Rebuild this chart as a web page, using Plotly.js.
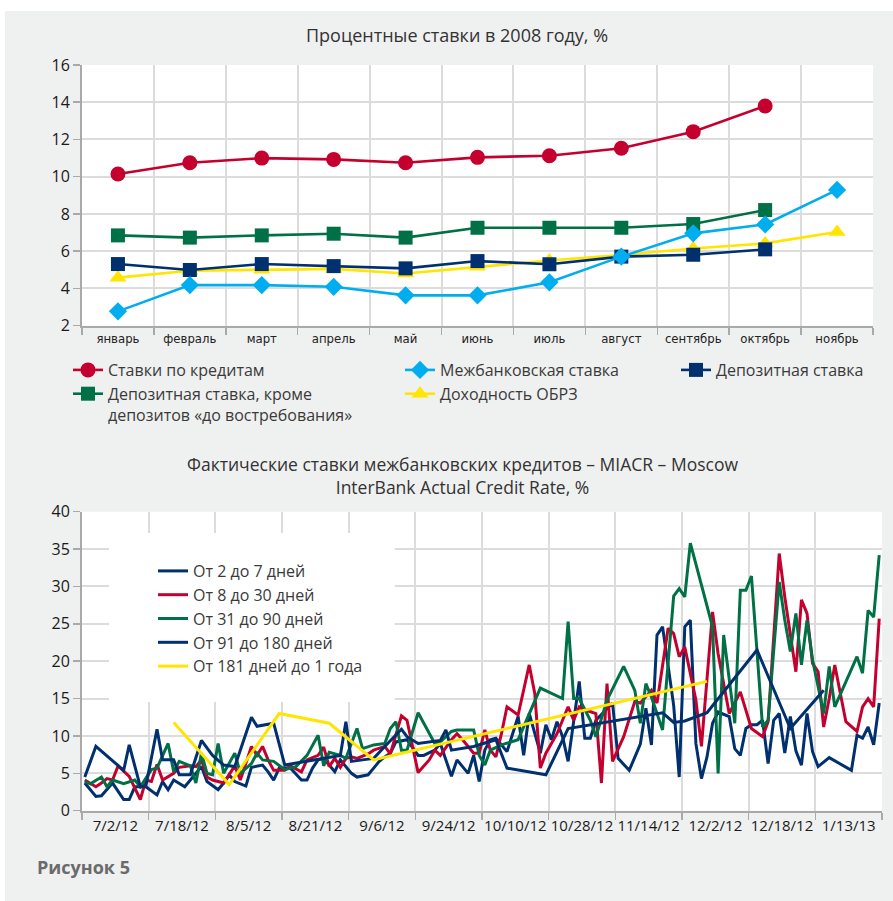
<!DOCTYPE html>
<html>
<head>
<meta charset="utf-8">
<script src="https://cdn.plot.ly/plotly-3.0.1.min.js"></script>
<style>html,body{margin:0;padding:0;background:#fff;}#chart{width:893px;height:901px;}</style>
</head>
<body>
<div id="chart"></div>
<script>
// ---------- Top chart data (2008, %) ----------
const months = ['январь','февраль','март','апрель','май','июнь','июль','август','сентябрь','октябрь','ноябрь'];
const creditRate = [10.15, 10.75, 11.0, 10.93, 10.75, 11.04, 11.13, 11.53, 12.42, 13.8, null];
const interbankRate = [2.77, 4.18, 4.18, 4.09, 3.63, 3.63, 4.33, 5.71, 6.96, 7.44, 9.29];
const depositRate = [5.31, 4.99, 5.31, 5.2, 5.08, 5.47, 5.3, 5.71, 5.81, 6.1, null];
const depositExDemand = [6.85, 6.73, 6.85, 6.94, 6.73, 7.26, 7.26, 7.26, 7.46, 8.21, null];
const obrzYield = [4.58, 4.95, 5.0, 5.05, 4.8, 5.17, 5.5, 5.8, 6.15, 6.42, 7.03];

// ---------- Bottom chart data (MIACR, %) ----------
// observation index on the category axis (12 observations per labelled period)
const dateLabels = ['7/2/12','7/18/12','8/5/12','8/21/12','9/6/12','9/24/12','10/10/12','10/28/12','11/14/12','12/2/12','12/18/12','1/13/13'];
const obsPerLabel = 12;

const d2to7_i = [0,2,3,5,7,8,9,11,13,14,15,16,18,21,22,24,25,26,27,29,30,32,33,34,35,37,39,40,41,42,43,45,46,48,49,51,52,53,54,55,56,58,60,61,63,64,66,67,68,69,70,71,72,73,74,76,78,79,80,82,83,84,85,86,87,89,90,91,92,95,96,98,100,101,102,103,104,106,107,108,109,110,111,112,113,114,116,117,118,119,120,121,122,123,124,125,126,127,128,129,130,131,132,134,138,139,140,141,142,143];
const d2to7_v = [3.7,1.9,2.0,3.7,1.5,1.5,3.2,3.2,2.1,3.9,2.8,4.1,3.2,5.9,3.9,2.8,3.7,4.8,3.9,3.3,5.8,6.1,5.2,4.1,5.7,5.7,4.1,4.1,5.7,6.8,7.0,5.2,6.8,5.0,4.5,4.8,5.7,6.6,7.2,7.7,9.2,9.5,7.4,7.4,8.1,9.0,4.6,6.8,5.9,5.0,7.4,3.9,8.1,9.5,9.7,7.9,12.6,7.4,13.0,7.7,11.5,9.5,11.9,9.9,6.6,17.3,9.7,9.7,12.1,14.4,7.0,5.4,8.9,13.7,8.8,23.5,24.6,14.1,4.5,24.6,25.5,9.0,4.3,7.2,11.7,13.2,12.6,8.3,7.4,11.0,11.5,11.5,12.1,6.3,12.1,13.0,7.7,12.6,8.0,6.1,13.0,7.9,5.9,7.1,5.4,10.1,9.7,11.2,8.8,14.4];

const d8to30_i = [0,2,3,4,5,6,8,10,11,12,13,14,16,17,19,20,21,22,23,25,27,28,30,31,32,33,34,36,37,39,40,42,43,44,45,46,47,48,49,51,52,54,55,57,58,60,62,63,64,66,67,68,70,71,72,73,74,75,76,78,80,81,82,83,85,87,88,89,90,92,93,94,95,97,99,100,102,103,105,106,107,108,110,111,113,114,116,118,120,122,123,125,126,128,129,130,131,132,133,134,135,137,139,140,141,142,143];
const d8to30_v = [4.1,3.2,3.7,4.3,4.1,6.0,4.6,1.5,4.1,3.9,6.2,4.1,5.0,5.8,6.0,5.9,6.8,4.5,4.1,3.7,6.0,4.1,8.6,7.4,8.6,6.8,5.4,5.4,6.0,5.2,6.8,7.4,8.5,5.9,7.0,5.8,7.0,7.2,7.0,7.6,8.1,8.6,7.6,12.7,12.1,5.1,6.8,8.1,7.4,9.5,10.3,9.5,7.7,7.7,10.8,8.1,7.2,10.3,13.9,12.8,19.5,15.7,5.7,7.7,10.3,13.9,12.1,13.9,13.5,13.0,3.7,17.0,6.6,9.9,14.6,14.4,16.1,14.4,24.4,23.7,20.6,21.9,14.8,8.6,26.6,21.0,13.0,15.9,11.0,9.9,11.9,34.4,28.6,18.6,28.2,26.4,19.7,18.6,11.2,15.0,19.5,11.9,10.6,13.9,15.0,13.9,25.7];

const d31to90_i = [0,1,3,4,5,7,9,10,12,13,15,16,17,19,20,21,22,23,24,25,27,28,30,31,32,34,36,38,40,42,43,44,46,47,49,50,52,54,55,56,57,58,60,63,64,66,67,70,71,72,73,75,78,79,82,86,87,88,89,91,92,94,97,99,100,101,102,104,106,107,108,109,113,114,115,117,118,119,120,122,123,125,126,127,128,129,130,131,133,134,135,139,140,141,142,143];
const d31to90_v = [3.9,3.6,4.5,3.2,4.1,3.6,4.1,3.2,5.5,5.7,9.0,5.2,6.6,6.0,3.7,7.7,5.0,4.8,9.0,5.0,7.7,5.0,6.3,7.7,6.8,6.6,5.5,5.9,7.4,10.1,6.0,7.8,7.4,7.0,11.0,8.3,8.8,9.0,11.0,11.9,8.1,8.1,13.1,9.0,9.2,10.6,10.8,10.8,7.4,6.1,8.1,8.8,9.5,11.2,16.4,15.0,25.3,15.0,15.0,12.1,9.9,14.8,19.3,16.1,11.7,17.0,15.2,10.8,28.7,29.7,28.6,35.8,24.6,5.0,23.5,11.7,29.5,29.5,31.4,11.2,12.1,30.6,25.5,21.3,26.4,19.5,25.5,20.2,13.0,19.3,13.9,20.6,18.4,26.8,25.9,34.2];

const d91to180_i = [0,2,7,8,10,11,13,14,16,17,19,21,23,25,27,30,31,33,34,36,46,47,48,50,52,54,57,58,60,64,65,66,70,74,76,83,87,104,106,108,112,121,127,133];
const d91to180_v = [4.5,8.6,5.4,8.8,3.2,3.3,10.9,6.8,6.8,4.8,4.8,9.4,7.4,6.1,5.9,12.5,11.3,11.5,11.7,6.1,7.4,11.9,6.6,6.8,7.0,8.6,10.9,9.9,9.0,9.4,10.8,8.1,8.6,9.5,5.7,4.8,11.0,13.1,11.8,12.0,13.1,21.5,11.0,16.1];

const d181to1y_i = [16,26,35,44,52,112];
const d181to1y_v = [11.8,3.5,13.0,11.7,6.8,17.3];

// ---------- styling ----------
const C = {red:'#c4002f', blue:'#00aeef', navy:'#00306e', green:'#007046', yellow:'#ffe500'};
const FONT = 'Open Sans, Noto Sans, sans-serif';
const NARROW = 'Liberation Sans Narrow, DejaVu Sans Condensed, Roboto, sans-serif';
const W = 893, H = 901;
const px = v => v / W;
const py = v => 1 - v / H;
const axisGray = '#a9a9a9', gridGray = '#dcdcdc';

function topTrace(name, y, color, symbol, size, legend) {
  return {type:'scatter', mode:'lines+markers', name, x: months, y,
    xaxis:'x', yaxis:'y', legend,
    line:{color, width:2.6}, marker:{color, symbol, size}, cliponaxis:false};
}
function botTrace(name, idx, vals, color, legend) {
  return {type:'scatter', mode:'lines', name, x: idx, y: vals,
    xaxis:'x2', yaxis:'y2', legend, line:{color, width:3}};
}

const data = [
  topTrace('Ставки по кредитам', creditRate, C.red, 'circle', 15, 'legend'),
  topTrace('Депозитная ставка, кроме<br>депозитов «до востребования»', depositExDemand, C.green, 'square', 14, 'legend'),
  topTrace('Доходность ОБРЗ', obrzYield, C.yellow, 'triangle-up', 15, 'legend2'),
  topTrace('Депозитная ставка', depositRate, C.navy, 'square', 14, 'legend3'),
  topTrace('Межбанковская ставка', interbankRate, C.blue, 'diamond', 14, 'legend2'),
  botTrace('От 2 до 7 дней', d2to7_i, d2to7_v, C.navy, 'legend4'),
  botTrace('От 8 до 30 дней', d8to30_i, d8to30_v, C.red, 'legend4'),
  botTrace('От 31 до 90 дней', d31to90_i, d31to90_v, C.green, 'legend4'),
  botTrace('От 91 до 180 дней', d91to180_i, d91to180_v, C.navy, 'legend4'),
  botTrace('От 181 дней до 1 года', d181to1y_i, d181to1y_v, C.yellow, 'legend4')
];
// legend order within columns
data[0].legendrank = 1; data[1].legendrank = 2;
data[4].legendrank = 1; data[2].legendrank = 2;

const nObs = dateLabels.length * obsPerLabel;
const labelPos = dateLabels.map((_, k) => k * obsPerLabel + (obsPerLabel - 1) / 2);
const boundaryPos = dateLabels.map((_, k) => k * obsPerLabel - 0.5).concat([nObs - 0.5]);

const legendBase = {orientation:'v', bgcolor:'rgba(0,0,0,0)', borderwidth:0,
  font:{family:FONT, size:16, color:'#3a3a3a'}, tracegroupgap:0, itemclick:false, itemdoubleclick:false,
  xanchor:'left', yanchor:'top', valign:'top'};

const layout = {
  width: W, height: H,
  margin:{l:0, r:0, t:0, b:0},
  paper_bgcolor:'#eff0f0', plot_bgcolor:'#ffffff',
  font:{family:FONT, color:'#222'},
  showlegend:true,
  xaxis:{domain:[px(82), px(873)], anchor:'y', type:'category', range:[-0.5, 10.5],
    tickson:'boundaries', ticks:'outside', ticklen:7, tickwidth:1.5, tickcolor:axisGray,
    showline:true, linecolor:axisGray, linewidth:2, showgrid:true, gridcolor:gridGray, gridwidth:2,
    tickfont:{family:NARROW, size:13, color:'#222'}, fixedrange:true},
  yaxis:{domain:[py(325.7), py(65)], anchor:'x', range:[2, 16], dtick:2, tick0:2,
    ticks:'outside', ticklen:7, tickwidth:1.5, tickcolor:axisGray,
    showline:true, linecolor:axisGray, linewidth:2, showgrid:true, gridcolor:gridGray, gridwidth:2,
    zeroline:false, tickfont:{family:FONT, size:16, color:'#1a1a1a'}, fixedrange:true},
  xaxis2:{domain:[px(82), px(882)], anchor:'y2', range:[-0.5, nObs - 0.5],
    tickmode:'array', tickvals:labelPos, ticktext:dateLabels, ticks:'', showgrid:false,
    showline:true, linecolor:axisGray, linewidth:2, zeroline:false,
    minor:{tickmode:'array', tickvals:boundaryPos, ticks:'outside', ticklen:7, tickwidth:1.5,
      tickcolor:axisGray, showgrid:true, gridcolor:gridGray, gridwidth:2},
    tickfont:{family:FONT, size:15, color:'#1a1a1a'}, fixedrange:true},
  yaxis2:{domain:[py(810.7), py(511.7)], anchor:'x2', range:[0, 40], dtick:5,
    ticks:'outside', ticklen:7, tickwidth:1.5, tickcolor:axisGray,
    showline:true, linecolor:axisGray, linewidth:2, showgrid:true, gridcolor:gridGray, gridwidth:2,
    zeroline:false, tickfont:{family:FONT, size:16, color:'#1a1a1a'}, fixedrange:true},
  legend: Object.assign({}, legendBase, {x:px(68), y:py(353)}),
  legend2: Object.assign({}, legendBase, {x:px(400), y:py(353)}),
  legend3: Object.assign({}, legendBase, {x:px(676), y:py(353)}),
  legend4: Object.assign({}, legendBase, {x:px(153), y:py(554), font:{family:FONT, size:16, color:'#3a3a3a'}}),
  shapes:[
    {type:'rect', xref:'paper', yref:'paper', x0:0, x1:1, y0:py(11), y1:1, fillcolor:'#ffffff', line:{width:0}, layer:'above'},
    {type:'rect', xref:'paper', yref:'paper', x0:0, x1:px(5), y0:0, y1:1, fillcolor:'#ffffff', line:{width:0}, layer:'above'},
    // white legend panel inside the lower plot (no data falls in this area)
    {type:'rect', xref:'x2', yref:'y2', x0:4.36, x1:55.8, y0:14.54, y1:37.15, fillcolor:'#ffffff', line:{width:0}, layer:'above'}
  ],
  annotations:[
    {text:'Процентные ставки в 2008 году, %', xref:'paper', yref:'paper', x:px(457), y:py(35),
      xanchor:'center', yanchor:'middle', showarrow:false, font:{family:FONT, size:18, color:'#333'}},
    {text:'Фактические ставки межбанковских кредитов – MIACR – Moscow<br>InterBank Actual Credit Rate, %',
      xref:'paper', yref:'paper', x:px(462), y:py(475.5), xanchor:'center', yanchor:'middle', showarrow:false,
      font:{family:FONT, size:17.5, color:'#333'}},
    {text:'<b>Рисунок 5</b>', xref:'paper', yref:'paper', x:px(35), y:py(867), xanchor:'left', yanchor:'middle',
      showarrow:false, font:{family:FONT, size:18, color:'#6b6b6b'}}
  ]
};

Plotly.newPlot('chart', data, layout, {displayModeBar:false, staticPlot:true});
</script>
</body>
</html>
